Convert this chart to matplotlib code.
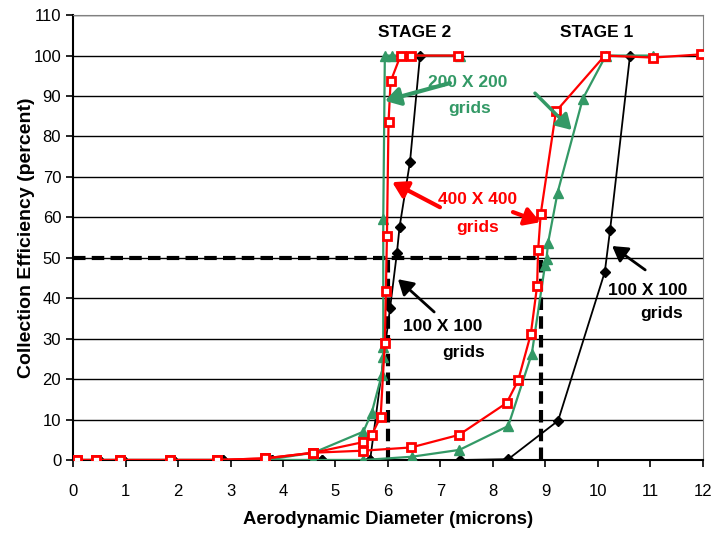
import matplotlib
matplotlib.use("Agg")
import matplotlib.pyplot as plt

plt.rcParams['font.family'] = ['Liberation Sans', 'DejaVu Sans']

# low part, shared by every curve
x_low = [0.07, 0.43, 0.89, 1.84, 2.75, 3.66]
y_low = [0, 0, 0, 0, 0, 0.4]
x_low_k = [0.1, 0.5, 0.95, 1.9, 2.86, 3.79, 4.74, 5.66]
y_low_k = [0, 0, 0, 0, 0, 0, 0, 0]

# stage 2
red2_x = x_low + [4.58, 5.52, 5.69, 5.86, 5.94, 5.96, 5.98, 6.01, 6.05, 6.24, 6.43, 7.34]
red2_y = y_low + [1.8, 4.4, 6.2, 10.7, 29, 41.8, 55.3, 83.5, 93.6, 100, 100, 100]
green2_x = x_low + [4.58, 5.53, 5.69, 5.88, 5.91, 5.91, 5.91, 5.94, 6.07, 7.37]
green2_y = [0] * 6 + [1.8, 7, 11.7, 21, 25.5, 28, 59.7, 100, 100, 100]
black2_x = x_low_k + [6.04, 6.17, 6.22, 6.42, 6.61]
black2_y = y_low_k + [37.6, 51.2, 57.6, 73.8, 100]

# stage 1
red1_x = x_low + [4.58, 5.52, 6.44, 7.35, 8.26, 8.48, 8.72, 8.84, 8.86, 8.91, 9.2, 10.13, 11.05, 11.97]
red1_y = y_low + [1.8, 2.3, 3.1, 6.2, 14.1, 19.7, 31.1, 43, 51.9, 60.9, 86.2, 100, 99.5, 100.3]
green1_x = x_low + [4.58, 5.53, 6.45, 7.36, 8.29, 8.74, 8.99, 9.02, 9.05, 9.23, 9.71, 10.15, 11.05]
green1_y = [0] * 6 + [0, 0, 0.8, 2.5, 8.4, 26.3, 48.1, 49.8, 53.7, 66.1, 89.3, 100, 100]
black1_x = x_low_k + [6.46, 7.38, 8.29, 9.24, 10.13, 10.23, 10.61]
black1_y = y_low_k + [0, 0, 0.2, 9.7, 46.5, 56.8, 100]

d50_stage2 = 6.0
d50_stage1 = 8.91

red = '#ff0000'
green = '#339966'

fig = plt.figure(figsize=(7.11, 5.36), dpi=100)
ax = fig.add_axes([0.1027, 0.1418, 0.886, 0.830])

ax.set_xlim(0, 12)
ax.set_ylim(0, 110)
ax.set_xticks(range(0, 13))
ax.set_yticks(range(0, 111, 10))
ax.yaxis.grid(True, color='black', lw=1)
ax.set_axisbelow(True)
for s in ['top', 'right']:
    ax.spines[s].set_color('#808080')
for s in ['left', 'bottom']:
    ax.spines[s].set_color('black')
    ax.spines[s].set_linewidth(1.5)
ax.tick_params(labelsize=12, length=5, width=1.2, color='black')
ax.tick_params(axis='x', pad=12)

# dashed d50 guides
ax.plot([0, d50_stage1], [50, 50], color='black', lw=3, ls=(0, (3, 1.5)), zorder=2)
ax.plot([d50_stage2, d50_stage2], [0, 50], color='black', lw=3, ls=(0, (3, 1.5)), zorder=2)
ax.plot([d50_stage1, d50_stage1], [0, 50], color='black', lw=3, ls=(0, (3, 1.5)), zorder=2)

for xs, ys in [(black2_x, black2_y), (black1_x, black1_y)]:
    ax.plot(xs, ys, color='black', lw=1.3, marker='D', ms=5, mfc='black', mec='black', zorder=3)
for xs, ys in [(green2_x, green2_y), (green1_x, green1_y)]:
    ax.plot(xs, ys, color=green, lw=1.6, marker='^', ms=7, mfc=green, mec=green, zorder=4)
for xs, ys in [(red2_x, red2_y), (red1_x, red1_y)]:
    ax.plot(xs, ys, color=red, lw=1.6, marker='s', ms=6, mfc='white', mec=red, mew=2, zorder=5)

ax.set_xlabel('Aerodynamic Diameter (microns)', fontsize=13.3, fontweight='bold', labelpad=9)
ax.set_ylabel('Collection Efficiency (percent)', fontsize=14, fontweight='bold', labelpad=-1)

tb = dict(fontsize=12.5, fontweight='bold', ha='center', va='center')
ax.text(6.51, 105.6, 'STAGE 2', color='black', **tb)
ax.text(9.98, 105.6, 'STAGE 1', color='black', **tb)

ax.text(7.52, 93.3, '200 X 200', color=green, **tb)
ax.text(7.56, 87.0, 'grids', color=green, **tb)
ax.text(7.71, 64.3, '400 X 400', color=red, **tb)
ax.text(7.71, 57.4, 'grids', color=red, **tb)
ax.text(7.05, 32.9, '100 X 100', color='black', **tb)
ax.text(7.45, 26.7, 'grids', color='black', **tb)
ax.text(10.95, 42.0, '100 X 100', color='black', **tb)
ax.text(11.22, 36.3, 'grids', color='black', **tb)

def arrow(x0, y0, x1, y1, c, lw):
    ax.annotate('', xy=(x1, y1), xytext=(x0, y0),
                arrowprops=dict(arrowstyle='-|>,head_length=0.5,head_width=0.3', color=c, lw=lw,
                                mutation_scale=18, shrinkA=0, shrinkB=0), zorder=6)

arrow(7.18, 93.2, 5.94, 88.8, green, 3)
arrow(8.8, 90.7, 9.5, 81.6, green, 2.5)
arrow(6.99, 62.5, 6.08, 68.7, red, 3)
arrow(8.38, 61.3, 8.9, 58.8, red, 3)
arrow(6.88, 36.6, 6.19, 44.7, 'black', 2)
arrow(10.9, 47.0, 10.27, 52.9, 'black', 2)

plt.savefig('out.png', dpi=100)
